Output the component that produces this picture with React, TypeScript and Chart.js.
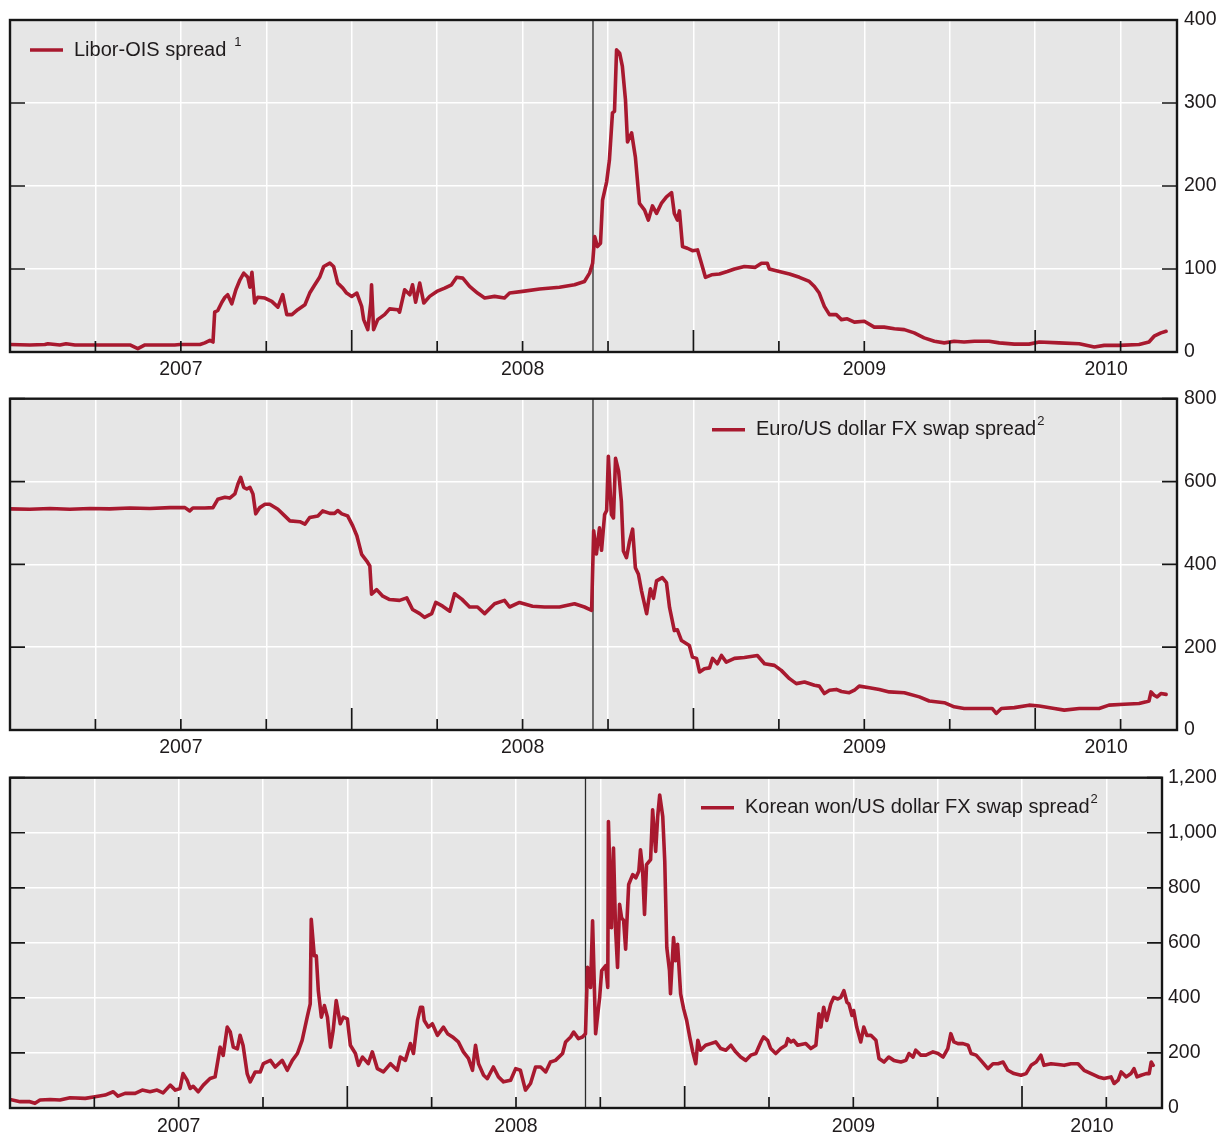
import React, { useEffect, useRef } from 'react';
import { Chart, registerables } from 'chart.js';

Chart.register(...registerables);

const FONT = '"Liberation Sans", Arial, Helvetica, sans-serif';
const RED = '#a8192f';
const INK = '#1f1b1c';
const X_MIN = 2007;
const X_MAX = 2010.415;
const LEHMAN = 2008.706;

const quarterTicks = [2007, 2007.25, 2007.5, 2007.75, 2008, 2008.25, 2008.5, 2008.75, 2009, 2009.25, 2009.5, 2009.75, 2010, 2010.25];
const yearLabels = ['2007', '2008', '2009', '2010'];

const liborTicks = [0, 100, 200, 300, 400];
const euroTicks = [0, 200, 400, 600, 800];
const wonTicks = [0, 200, 400, 600, 800, 1000, 1200];

const liborDates = [2007.000, 2007.058, 2007.102, 2007.111, 2007.146, 2007.164, 2007.190, 2007.263, 2007.351, 2007.374, 2007.395, 2007.482, 2007.497, 2007.556, 2007.570, 2007.585, 2007.594, 2007.599, 2007.608, 2007.620, 2007.629, 2007.637, 2007.649, 2007.661, 2007.673, 2007.684, 2007.696, 2007.702, 2007.708, 2007.716, 2007.725, 2007.746, 2007.766, 2007.784, 2007.798, 2007.810, 2007.825, 2007.842, 2007.863, 2007.877, 2007.892, 2007.906, 2007.918, 2007.936, 2007.947, 2007.959, 2007.974, 2007.985, 2008.000, 2008.015, 2008.029, 2008.035, 2008.047, 2008.056, 2008.058, 2008.064, 2008.076, 2008.096, 2008.111, 2008.135, 2008.140, 2008.155, 2008.170, 2008.178, 2008.187, 2008.199, 2008.211, 2008.228, 2008.249, 2008.272, 2008.292, 2008.307, 2008.325, 2008.345, 2008.368, 2008.389, 2008.418, 2008.447, 2008.462, 2008.500, 2008.550, 2008.608, 2008.652, 2008.681, 2008.696, 2008.705, 2008.711, 2008.719, 2008.728, 2008.734, 2008.746, 2008.754, 2008.763, 2008.769, 2008.775, 2008.784, 2008.792, 2008.801, 2008.807, 2008.819, 2008.830, 2008.842, 2008.857, 2008.868, 2008.880, 2008.892, 2008.906, 2008.921, 2008.936, 2008.944, 2008.953, 2008.959, 2008.968, 2008.982, 2008.997, 2009.012, 2009.026, 2009.035, 2009.053, 2009.076, 2009.099, 2009.120, 2009.149, 2009.181, 2009.199, 2009.216, 2009.222, 2009.251, 2009.281, 2009.310, 2009.339, 2009.354, 2009.368, 2009.383, 2009.398, 2009.418, 2009.433, 2009.450, 2009.471, 2009.500, 2009.529, 2009.558, 2009.588, 2009.617, 2009.646, 2009.675, 2009.705, 2009.734, 2009.763, 2009.792, 2009.822, 2009.865, 2009.895, 2009.939, 2009.982, 2010.012, 2010.070, 2010.129, 2010.173, 2010.202, 2010.246, 2010.304, 2010.333, 2010.348, 2010.368, 2010.383];
const liborValues = [9, 8.5, 9, 10, 8.5, 10, 8.5, 8.5, 8.5, 4, 8.5, 8.5, 9, 9, 11, 14, 12, 48, 50, 60, 66, 69, 58, 75, 87, 95, 90, 78, 96, 59, 66, 65, 61, 54, 69, 45, 45, 51, 57, 71, 81, 90, 103, 107, 103, 83, 77, 71, 67, 71, 55, 39, 27, 60, 81, 27, 39, 45, 52, 51, 48, 75, 69, 81, 60, 83, 59, 67, 73, 77, 81, 90, 89, 79, 71, 65, 67, 65, 71, 73, 76, 78, 81, 85, 95, 107, 139, 127, 131, 183, 205, 231, 288, 290, 364, 360, 344, 304, 253, 264, 235, 179, 171, 159, 176, 167, 179, 187, 192, 167, 159, 170, 127, 125, 122, 123, 103, 90, 93, 94, 97, 100, 103, 102, 107, 107, 100, 97, 94, 90, 85, 79, 71, 55, 45, 45, 39, 40, 36, 37, 30, 30, 28, 27, 23, 17, 13, 11, 13, 12, 13, 13, 11, 9.5, 9.5, 12, 11, 10, 6, 8, 8, 9, 12, 19, 23, 25];

const euroDates = [2007.000, 2007.058, 2007.117, 2007.175, 2007.234, 2007.292, 2007.351, 2007.409, 2007.468, 2007.512, 2007.526, 2007.535, 2007.570, 2007.594, 2007.608, 2007.629, 2007.643, 2007.658, 2007.667, 2007.675, 2007.684, 2007.693, 2007.702, 2007.711, 2007.719, 2007.731, 2007.746, 2007.760, 2007.784, 2007.804, 2007.819, 2007.848, 2007.863, 2007.877, 2007.901, 2007.915, 2007.936, 2007.950, 2007.959, 2007.971, 2007.988, 2008.003, 2008.015, 2008.029, 2008.044, 2008.053, 2008.058, 2008.073, 2008.091, 2008.111, 2008.140, 2008.161, 2008.178, 2008.199, 2008.213, 2008.234, 2008.246, 2008.266, 2008.287, 2008.301, 2008.322, 2008.345, 2008.368, 2008.389, 2008.418, 2008.447, 2008.462, 2008.491, 2008.529, 2008.564, 2008.608, 2008.652, 2008.681, 2008.702, 2008.708, 2008.716, 2008.725, 2008.731, 2008.740, 2008.746, 2008.751, 2008.760, 2008.766, 2008.772, 2008.781, 2008.789, 2008.795, 2008.804, 2008.813, 2008.822, 2008.830, 2008.839, 2008.848, 2008.863, 2008.874, 2008.883, 2008.892, 2008.909, 2008.921, 2008.930, 2008.944, 2008.953, 2008.965, 2008.988, 2008.997, 2009.009, 2009.018, 2009.032, 2009.047, 2009.056, 2009.070, 2009.082, 2009.096, 2009.120, 2009.149, 2009.187, 2009.208, 2009.237, 2009.257, 2009.281, 2009.301, 2009.325, 2009.354, 2009.368, 2009.383, 2009.398, 2009.418, 2009.433, 2009.456, 2009.471, 2009.485, 2009.515, 2009.544, 2009.573, 2009.617, 2009.661, 2009.690, 2009.734, 2009.763, 2009.792, 2009.851, 2009.874, 2009.886, 2009.901, 2009.939, 2009.982, 2010.012, 2010.056, 2010.085, 2010.129, 2010.187, 2010.216, 2010.260, 2010.304, 2010.325, 2010.333, 2010.339, 2010.348, 2010.357, 2010.368, 2010.383];
const euroValues = [534, 533, 535, 533, 535, 534, 536, 535, 537, 537, 529, 536, 536, 537, 557, 562, 560, 570, 594, 610, 586, 582, 586, 570, 522, 537, 545, 545, 533, 517, 505, 503, 497, 513, 517, 529, 523, 523, 530, 522, 517, 493, 469, 424, 408, 396, 328, 339, 323, 315, 313, 319, 291, 281, 272, 281, 308, 299, 287, 329, 316, 297, 297, 281, 305, 313, 297, 308, 299, 297, 297, 305, 297, 289, 481, 425, 488, 434, 520, 530, 661, 520, 512, 656, 625, 552, 432, 416, 456, 485, 392, 376, 336, 281, 341, 318, 360, 368, 356, 296, 240, 242, 216, 204, 176, 173, 140, 148, 150, 173, 160, 180, 164, 173, 175, 180, 160, 156, 144, 124, 112, 116, 108, 106, 88, 96, 98, 93, 90, 96, 106, 102, 98, 92, 90, 80, 70, 66, 56, 52, 52, 52, 40, 52, 54, 60, 58, 52, 48, 52, 52, 60, 62, 64, 68, 70, 92, 84, 80, 88, 86];

const wonDates = [2007.000, 2007.030, 2007.059, 2007.074, 2007.089, 2007.119, 2007.148, 2007.178, 2007.223, 2007.252,
  2007.282, 2007.306, 2007.320, 2007.341, 2007.371, 2007.392, 2007.415, 2007.436, 2007.454, 2007.475,
  2007.490, 2007.504, 2007.513, 2007.525, 2007.534, 2007.543, 2007.558, 2007.573, 2007.593, 2007.608,
  2007.623, 2007.632, 2007.644, 2007.653, 2007.662, 2007.674, 2007.682, 2007.691, 2007.703, 2007.712,
  2007.727, 2007.742, 2007.751, 2007.772, 2007.786, 2007.807, 2007.822, 2007.837, 2007.852, 2007.866,
  2007.881, 2007.890, 2007.893, 2007.902, 2007.908, 2007.914, 2007.923, 2007.932, 2007.941, 2007.950,
  2007.958, 2007.967, 2007.979, 2007.988, 2008.000, 2008.009, 2008.024, 2008.033, 2008.045, 2008.062,
  2008.074, 2008.089, 2008.107, 2008.128, 2008.148, 2008.157, 2008.172, 2008.187, 2008.196, 2008.208,
  2008.217, 2008.223, 2008.228, 2008.240, 2008.252, 2008.267, 2008.285, 2008.297, 2008.312, 2008.329,
  2008.344, 2008.359, 2008.371, 2008.380, 2008.389, 2008.404, 2008.415, 2008.433, 2008.448, 2008.463,
  2008.484, 2008.499, 2008.513, 2008.528, 2008.543, 2008.558, 2008.573, 2008.588, 2008.602, 2008.617,
  2008.638, 2008.647, 2008.662, 2008.671, 2008.685, 2008.697, 2008.706, 2008.712, 2008.721, 2008.727,
  2008.736, 2008.748, 2008.754, 2008.766, 2008.772, 2008.774, 2008.783, 2008.789, 2008.795, 2008.801,
  2008.807, 2008.813, 2008.819, 2008.825, 2008.834, 2008.846, 2008.855, 2008.864, 2008.869, 2008.875,
  2008.881, 2008.887, 2008.899, 2008.905, 2008.914, 2008.920, 2008.926, 2008.935, 2008.941, 2008.947,
  2008.955, 2008.958, 2008.967, 2008.973, 2008.979, 2008.988, 2008.997, 2009.006, 2009.015, 2009.024,
  2009.033, 2009.039, 2009.047, 2009.062, 2009.077, 2009.092, 2009.107, 2009.122, 2009.137, 2009.151,
  2009.166, 2009.181, 2009.196, 2009.211, 2009.226, 2009.234, 2009.246, 2009.255, 2009.270, 2009.285,
  2009.300, 2009.306, 2009.315, 2009.323, 2009.335, 2009.359, 2009.374, 2009.389, 2009.398, 2009.404,
  2009.412, 2009.421, 2009.433, 2009.442, 2009.454, 2009.463, 2009.472, 2009.481, 2009.487, 2009.496,
  2009.501, 2009.510, 2009.522, 2009.531, 2009.540, 2009.552, 2009.567, 2009.576, 2009.591, 2009.605,
  2009.620, 2009.641, 2009.656, 2009.665, 2009.677, 2009.685, 2009.700, 2009.715, 2009.736, 2009.751,
  2009.766, 2009.780, 2009.789, 2009.798, 2009.810, 2009.825, 2009.840, 2009.849, 2009.864, 2009.878,
  2009.899, 2009.914, 2009.929, 2009.944, 2009.958, 2009.976, 2009.997, 2010.012, 2010.027, 2010.042,
  2010.056, 2010.065, 2010.086, 2010.107, 2010.125, 2010.145, 2010.166, 2010.184, 2010.205, 2010.226,
  2010.243, 2010.264, 2010.273, 2010.285, 2010.294, 2010.309, 2010.323, 2010.332, 2010.341, 2010.353,
  2010.368, 2010.377, 2010.383, 2010.389];
const wonValues = [31, 23, 23, 17, 29, 31, 29, 37, 35, 41,
  47, 59, 43, 53, 53, 65, 59, 65, 55, 83,
  65, 71, 125, 101, 71, 79, 59, 83, 107, 113,
  221, 191, 294, 276, 221, 215, 264, 227, 125, 95,
  131, 131, 161, 173, 149, 173, 137, 173, 198, 246,
  330, 378, 686, 553, 553, 426, 330, 372, 330, 221,
  282, 390, 306, 330, 324, 228, 198, 155, 185, 161,
  204, 143, 131, 161, 137, 185, 173, 234, 198, 318,
  366, 366, 318, 294, 306, 264, 294, 270, 258, 240,
  204, 180, 137, 228, 161, 119, 107, 149, 113, 95,
  101, 143, 137, 65, 89, 149, 149, 131, 167, 173,
  198, 240, 258, 276, 252, 258, 270, 511, 438, 680,
  270, 402, 499, 517, 438, 1041, 655, 944, 655, 511,
  740, 691, 682, 577, 812, 848, 836, 860, 938, 872,
  703, 884, 902, 1083, 932, 1059, 1137, 1059, 896, 583,
  499, 415, 619, 535, 595, 415, 360, 318, 258, 204,
  161, 246, 210, 228, 234, 240, 216, 210, 228, 204,
  185, 173, 192, 198, 240, 258, 246, 216, 198, 216,
  228, 252, 240, 246, 228, 234, 216, 228, 342, 294,
  366, 318, 378, 402, 396, 402, 426, 384, 378, 336,
  354, 294, 240, 294, 264, 264, 246, 180, 167, 185,
  173, 167, 173, 198, 185, 210, 192, 192, 204, 198,
  185, 216, 270, 240, 234, 234, 228, 198, 192, 173,
  143, 161, 161, 167, 137, 125, 119, 125, 155, 167,
  192, 155, 161, 158, 155, 161, 161, 137, 125, 113,
  107, 113, 89, 101, 131, 113, 125, 143, 113, 119,
  125, 125, 167, 155];

const panels = [
  { key: 'libor', top: 0, height: 380, padTop: 20, xAxisH: 28, yAxisW: 45, yPad: 7, yearPad: 6,
    dates: liborDates, values: liborValues, yTicks: liborTicks,
    legend: 'Libor-OIS spread', sup: '1', supGap: 8, legendDx: 20, legendDy: 30 },
  { key: 'euro', top: 380, height: 380, padTop: 17, xAxisH: 30, yAxisW: 45, yPad: 7, yearPad: 6,
    dates: euroDates, values: euroValues, yTicks: euroTicks,
    legend: 'Euro/US dollar FX swap spread', sup: '2', supGap: 1, legendDx: 702, legendDy: 31 },
  { key: 'won', top: 760, height: 375, padTop: 16, xAxisH: 27, yAxisW: 60, yPad: 6, yearPad: 7,
    dates: wonDates, values: wonValues, yTicks: wonTicks,
    legend: 'Korean won/US dollar FX swap spread', sup: '2', supGap: 1, legendDx: 691, legendDy: 30 },
];

const yearMids = yearLabels.map((y) => (Math.max(Number(y), X_MIN) + Math.min(Number(y) + 1, X_MAX)) / 2);

const decorPlugin = {
  id: 'decor',
  beforeDraw(chart: any) {
    const { ctx, chartArea: a } = chart;
    ctx.save();
    ctx.fillStyle = '#e6e6e6';
    ctx.fillRect(a.left, a.top, a.right - a.left, a.bottom - a.top);
    ctx.restore();
  },
  afterDraw(chart: any, _args: any, opts: any) {
    const { ctx, chartArea: a, scales } = chart;
    ctx.save();
    ctx.strokeStyle = '#161616';
    ctx.lineWidth = 1.7;
    ctx.beginPath();
    scales.y.ticks.forEach((t: any) => {
      const py = scales.y.getPixelForValue(t.value);
      ctx.moveTo(a.left, py); ctx.lineTo(a.left + 15, py);
      ctx.moveTo(a.right - 15, py); ctx.lineTo(a.right, py);
    });
    scales.x.ticks.forEach((t: any) => {
      const px = scales.x.getPixelForValue(t.value);
      const len = Number.isInteger(t.value) ? 22 : 11;
      ctx.moveTo(px, a.bottom); ctx.lineTo(px, a.bottom - len);
    });
    ctx.stroke();
    ctx.lineWidth = 2.4;
    ctx.strokeRect(a.left, a.top, a.right - a.left, a.bottom - a.top);

    const lx = a.left + opts.dx;
    const ly = a.top + opts.dy;
    ctx.strokeStyle = RED;
    ctx.lineWidth = 3.6;
    ctx.beginPath();
    ctx.moveTo(lx, ly); ctx.lineTo(lx + 33, ly);
    ctx.stroke();
    ctx.fillStyle = INK;
    ctx.textAlign = 'left';
    ctx.textBaseline = 'middle';
    ctx.font = `20px ${FONT}`;
    ctx.fillText(opts.text, lx + 44, ly);
    const w = ctx.measureText(opts.text).width;
    ctx.font = `13px ${FONT}`;
    ctx.fillText(opts.sup, lx + 44 + w + opts.supGap, ly - 8);
    ctx.restore();
  },
};

function Panel({ cfg }: { cfg: any }) {
  const ref = useRef<HTMLCanvasElement>(null);
  useEffect(() => {
    const yMin = cfg.yTicks[0];
    const yMax = cfg.yTicks[cfg.yTicks.length - 1];
    const chart = new Chart(ref.current as HTMLCanvasElement, {
      type: 'line',
      data: {
        datasets: [
          {
            data: cfg.dates.map((d: number, i: number) => ({ x: d, y: cfg.values[i] })),
            borderColor: RED,
            borderWidth: 3.6,
            pointRadius: 0,
            tension: 0,
            borderJoinStyle: 'round',
            borderCapStyle: 'round',
            xAxisID: 'x',
            yAxisID: 'y',
          },
          {
            data: [{ x: LEHMAN, y: yMin }, { x: LEHMAN, y: yMax }],
            borderColor: '#2b2b2b',
            borderWidth: 1.3,
            pointRadius: 0,
            xAxisID: 'x',
            yAxisID: 'y',
          },
        ],
      },
      options: {
        responsive: false,
        animation: false,
        devicePixelRatio: 1,
        events: [],
        layout: { padding: { top: cfg.padTop, left: 10, right: 0, bottom: 0 } },
        plugins: {
          legend: { display: false },
          tooltip: { enabled: false },
          decor: { dx: cfg.legendDx, dy: cfg.legendDy, text: cfg.legend, sup: cfg.sup, supGap: cfg.supGap },
        } as any,
        scales: {
          x: {
            type: 'linear',
            position: 'bottom',
            min: X_MIN,
            max: X_MAX,
            afterBuildTicks: (s: any) => { s.ticks = quarterTicks.map((v) => ({ value: v })); },
            afterFit: (s: any) => { s.height = 0; },
            grid: { color: '#ffffff', lineWidth: 1.5, drawTicks: false },
            border: { display: false },
            ticks: { display: false },
          },
          xYear: {
            type: 'linear',
            position: 'bottom',
            min: X_MIN,
            max: X_MAX,
            afterBuildTicks: (s: any) => { s.ticks = yearMids.map((v) => ({ value: v })); },
            afterFit: (s: any) => { s.height = cfg.xAxisH; },
            grid: { display: false, drawTicks: false },
            border: { display: false },
            ticks: {
              autoSkip: false,
              maxRotation: 0,
              padding: cfg.yearPad,
              color: INK,
              font: { size: 19.5, family: FONT },
              callback: (_v: any, i: number) => yearLabels[i],
            },
          },
          y: {
            type: 'linear',
            position: 'right',
            min: yMin,
            max: yMax,
            afterBuildTicks: (s: any) => { s.ticks = cfg.yTicks.map((v: number) => ({ value: v })); },
            afterFit: (s: any) => { s.width = cfg.yAxisW; },
            grid: { color: '#ffffff', lineWidth: 1.5, drawTicks: false },
            border: { display: false },
            ticks: {
              padding: cfg.yPad,
              color: INK,
              font: { size: 19.5, family: FONT },
              callback: (v: any) => Number(v).toLocaleString('en-US'),
            },
          },
        } as any,
      },
      plugins: [decorPlugin as any],
    } as any);
    return () => chart.destroy();
  }, []);
  return (
    <canvas
      ref={ref}
      width={1222}
      height={cfg.height}
      style={{ position: 'absolute', left: 0, top: cfg.top, width: 1222, height: cfg.height }}
    />
  );
}

export default function App() {
  return (
    <div style={{ position: 'absolute', left: 0, top: 0, width: 1222, height: 1135, background: '#ffffff' }}>
      {panels.map((p) => (
        <Panel key={p.key} cfg={p} />
      ))}
    </div>
  );
}
